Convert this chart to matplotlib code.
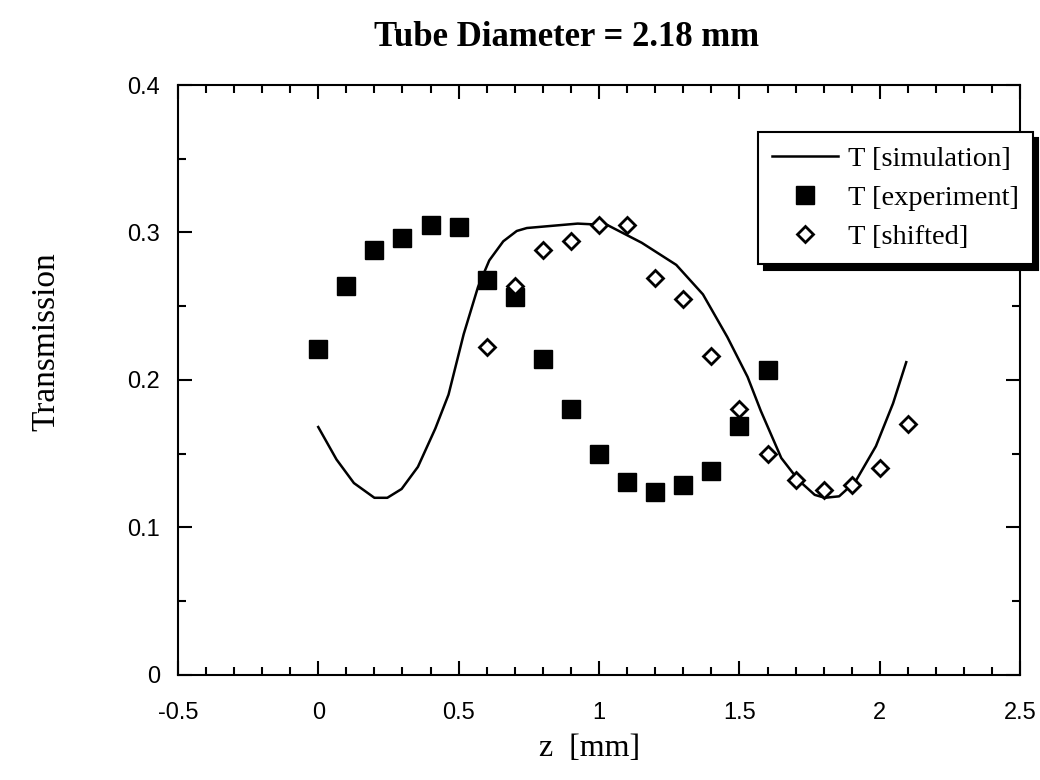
import matplotlib.pyplot as plt
from matplotlib.ticker import MultipleLocator

# simulation curve
z_sim = [0.0, 0.065, 0.127, 0.2, 0.246, 0.297, 0.355, 0.417, 0.464, 0.518,
         0.569, 0.609, 0.659, 0.707, 0.743, 0.924, 1.03, 1.152, 1.275, 1.37,
         1.457, 1.529, 1.576, 1.649, 1.71, 1.768, 1.804, 1.855, 1.913, 1.986,
         2.047, 2.094]
t_sim = [0.168, 0.146, 0.130, 0.120, 0.120, 0.126, 0.141, 0.167, 0.190, 0.231,
         0.263, 0.281, 0.294, 0.301, 0.303, 0.306, 0.305, 0.293, 0.278, 0.258,
         0.229, 0.202, 0.179, 0.147, 0.132, 0.122, 0.120, 0.121, 0.131, 0.155,
         0.184, 0.212]

# measured points
z_exp = [0.0, 0.1, 0.2, 0.3, 0.4, 0.5, 0.6, 0.7, 0.8, 0.9, 1.0, 1.1, 1.2,
         1.3, 1.4, 1.5, 1.6]
t_exp = [0.221, 0.264, 0.288, 0.296, 0.305, 0.304, 0.268, 0.256, 0.214, 0.180,
         0.150, 0.131, 0.124, 0.129, 0.138, 0.169, 0.207]

# measured points shifted along z
z_shift = [0.6, 0.7, 0.8, 0.9, 1.0, 1.1, 1.2, 1.3, 1.4, 1.5, 1.6, 1.7, 1.8,
           1.9, 2.0, 2.1]
t_shift = [0.222, 0.264, 0.288, 0.294, 0.305, 0.305, 0.269, 0.255, 0.216, 0.180,
           0.150, 0.132, 0.125, 0.129, 0.140, 0.170]

x_ticks = [-0.5, 0, 0.5, 1, 1.5, 2, 2.5]
x_labels = ['-0.5', '0', '0.5', '1', '1.5', '2', '2.5']
y_ticks = [0, 0.1, 0.2, 0.3, 0.4]
y_labels = ['0', '0.1', '0.2', '0.3', '0.4']

serif = 'Liberation Serif'
sans = 'Liberation Sans'

fig = plt.figure(figsize=(10.4, 7.8), dpi=100)
ax = fig.add_axes([0.171, 0.135, 0.81, 0.756])

ax.plot(z_sim, t_sim, color='black', lw=1.8, label='T [simulation]')
ax.plot(z_exp, t_exp, ls='none', marker='s', ms=13, color='black',
        label='T [experiment]')
ax.plot(z_shift, t_shift, ls='none', marker='D', ms=8.5, mfc='white',
        mec='black', mew=2, label='T [shifted]')

ax.set_xlim(-0.5, 2.5)
ax.set_ylim(0, 0.4)
ax.set_xticks(x_ticks)
ax.set_xticklabels(x_labels, family=sans, fontsize=17)
ax.set_yticks(y_ticks)
ax.set_yticklabels(y_labels, family=sans, fontsize=17)
ax.xaxis.set_minor_locator(MultipleLocator(0.1))
ax.yaxis.set_minor_locator(MultipleLocator(0.05))

ax.tick_params(which='both', direction='in', top=True, right=True, width=1.5)
ax.tick_params(which='major', length=10)
ax.tick_params(which='minor', length=6)
ax.tick_params(axis='x', which='major', pad=20)
ax.tick_params(axis='y', which='major', pad=13)
for s in ax.spines.values():
    s.set_linewidth(1.5)

ax.set_xlabel('z  [mm]', family=serif, fontsize=23)
ax.xaxis.set_label_coords(0.489, -0.1)
ax.set_ylabel('Transmission', family=serif, fontsize=24)
ax.yaxis.set_label_coords(-0.138, 0.565)
fig.text(0.545, 0.952, 'Tube Diameter = 2.18 mm', family=serif,
         fontweight='bold', fontsize=25, ha='center', va='center')

leg = ax.legend(loc='upper right', bbox_to_anchor=(1.015, 0.92),
                borderaxespad=0, prop={'family': serif, 'size': 20.5},
                handlelength=2.3, handletextpad=0.35, labelspacing=0.45,
                borderpad=0.5, fancybox=False, framealpha=1,
                shadow={'color': 'black', 'alpha': 1, 'ox': 4, 'oy': -4})
leg.get_frame().set_edgecolor('black')
leg.get_frame().set_linewidth(1.5)

fig.savefig('out.png', dpi=100)
